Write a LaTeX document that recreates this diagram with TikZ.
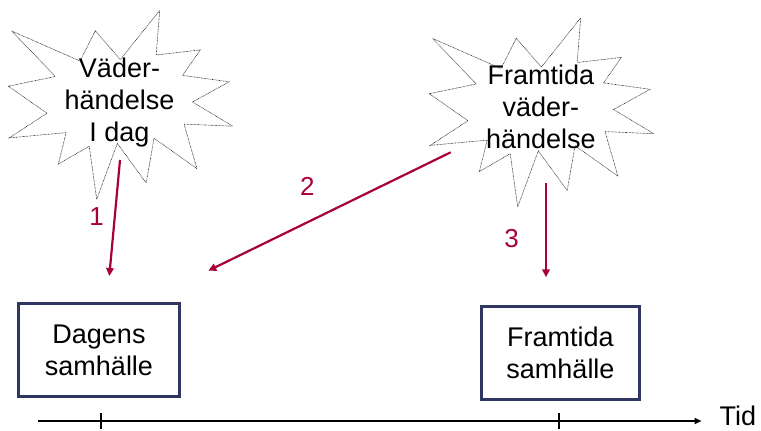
\documentclass[tikz,border=0pt]{standalone}
\usepackage{fontspec}
\setmainfont{Liberation Sans}
\usetikzlibrary{arrows.meta}
\definecolor{arrred}{RGB}{168,0,58}
\definecolor{boxblue}{RGB}{47,54,95}
\tikzset{
  burstline/.style={draw=black!85, line width=0.6pt, dash pattern=on 0.7pt off 0.7pt},
  burst/.pic={
    \draw[burstline] (11.7,31) -- (80,61) -- (95.3,30.8) -- (120.3,59.6) -- (159.7,10.4)
      -- (156.2,55) -- (200.3,49.9) -- (182.5,75.4) -- (229.2,81.8) -- (192.5,102)
      -- (232.8,126.2) -- (184,124.1) -- (197,168.7) -- (154,138.2) -- (146.2,183)
      -- (117.3,143.4) -- (96.7,199.3) -- (89.2,146.2) -- (58.3,164.1) -- (66.2,132.6)
      -- (9.2,137.9) -- (47,113.2) -- (8.3,86.2) -- (55.3,76.5) -- cycle;
  },
  bursttext/.style={align=center, inner sep=0pt, font=\fontsize{27}{32}\selectfont},
  societybox/.style={draw=boxblue, line width=3pt, inner sep=0pt, align=center,
    font=\fontsize{27}{32}\selectfont},
  redarrow/.style={draw=arrred, line width=2.2pt, -{Triangle[length=8pt,width=7.5pt]}},
  numlabel/.style={text=arrred, inner sep=0pt, font=\fontsize{26}{30}\selectfont},
  axisline/.style={line width=2.4pt, -{Triangle[length=7pt,width=6pt]}},
  tickline/.style={line width=2pt}
}
\begin{document}
\begin{tikzpicture}[x=1pt,y=-1pt]
\useasboundingbox (0,0) rectangle (761,431);
% starbursts
\pic at (0,0) {burst};
\pic at (421,7.5) {burst};
\node[bursttext] (today) at (119.5,102.5) {Väder-\\händelse\\I dag};
\node[bursttext] (future) at (540.8,107.2) {Framtida\\väder-\\händelse};
% boxes
\node[societybox, minimum width=160.4pt, minimum height=93.6pt] (dagens) at (99,350) {Dagens\\samhälle};
\node[societybox, minimum width=158pt, minimum height=92.7pt] (framtida) at (560.5,352.9) {Framtida\\samhälle};
% arrows
\coordinate (a1s) at (120,160);
\coordinate (a1e) at (109.3,276);
\coordinate (a2s) at (450.7,152.3);
\coordinate (a2e) at (208.3,270.7);
\coordinate (a3s) at (546,183.3);
\coordinate (a3e) at (546,277.3);
\draw[redarrow] (a1s) -- (a1e);
\draw[redarrow] (a2s) -- (a2e);
\draw[redarrow] (a3s) -- (a3e);
\node[numlabel] (n1) at (96.7,216.7) {1};
\node[numlabel] (n2) at (307.3,186.7) {2};
\node[numlabel] (n3) at (511.7,238.3) {3};
% time axis
\coordinate (ax0) at (38.3,421);
\coordinate (ax1) at (701.5,421);
\draw[axisline] (ax0) -- (ax1);
\coordinate (t1a) at (100.7,413.3);
\coordinate (t1b) at (100.7,428.5);
\coordinate (t2a) at (559.3,413.3);
\coordinate (t2b) at (559.3,428.5);
\draw[tickline] (t1a) -- (t1b);
\draw[tickline] (t2a) -- (t2b);
\node[anchor=base west, inner sep=0pt, font=\fontsize{27}{32}\selectfont] (tid) at (719.5,425) {Tid};
\end{tikzpicture}
\end{document}
